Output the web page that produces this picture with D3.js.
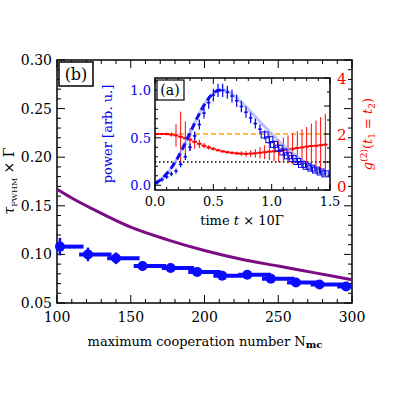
<!DOCTYPE html>
<html><head><meta charset="utf-8">
<script src="https://cdn.jsdelivr.net/npm/d3@7"></script>
<style>body{margin:0;background:#fff}text{font-family:"DejaVu Serif",serif}</style>
</head><body>
<svg id="c" width="400" height="400"></svg>
<script>
// main panel data
var nMc = [102,121,140,158,177,195,212,229,245,262,278,296]
var tau = [0.108,0.100,0.096,0.088,0.086,0.082,0.078,0.079,0.075,0.071,0.069,0.067]
var tauErr = [0.009,0.007,0.006,0.005,0.004,0.003,0.003,0.003,0.003,0.003,0.003,0.003]
var fitN = [100,110,125,150,175,200,225,250,275,300]
var fitTau = [0.167,0.158,0.146,0.128,0.115,0.104,0.095,0.088,0.081,0.074]
// inset data
var tPts = [0.02,0.06,0.10,0.14,0.18,0.22,0.26,0.30,0.34,0.38,0.42,0.46,0.50,0.54,0.58,0.62,0.66,0.70,0.74,0.78,0.82,0.86,0.90,0.94,0.98,1.02,1.06,1.10,1.14,1.18,1.22,1.26,1.30,1.34,1.38,1.42,1.46]
var power = [0.03,0.06,0.09,0.12,0.15,0.22,0.30,0.40,0.52,0.64,0.76,0.87,0.95,1.00,1.00,0.98,0.94,0.89,0.83,0.77,0.71,0.65,0.59,0.53,0.48,0.43,0.39,0.35,0.31,0.28,0.25,0.22,0.20,0.18,0.16,0.14,0.12]
var fitT = [0,0.05,0.1,0.15,0.2,0.25,0.3,0.35,0.4,0.45,0.5,0.55,0.6,0.65,0.7,0.8,0.9,1.0,1.1,1.2,1.3,1.4,1.5]
var fitP = [0.02,0.06,0.12,0.2,0.3,0.42,0.55,0.68,0.8,0.9,0.97,1.0,1.0,0.97,0.92,0.8,0.67,0.54,0.42,0.32,0.23,0.16,0.11]
var g2 = [2.0,2.0,2.0,1.98,1.95,1.9,1.85,1.8,1.72,1.65,1.58,1.52,1.47,1.42,1.38,1.35,1.33,1.31,1.3,1.29,1.3,1.31,1.33,1.35,1.37,1.38,1.4,1.42,1.45,1.47,1.5,1.52,1.55,1.57,1.58,1.6,1.62]
var g2Err = [0.04,0.04,0.05,0.08,0.4,0.9,0.6,0.4,0.25,0.15,0.1,0.08,0.06,0.05,0.05,0.05,0.05,0.06,0.08,0.1,0.12,0.15,0.2,0.25,0.3,0.35,0.4,0.45,0.5,0.55,0.6,0.65,0.7,0.8,0.9,1.0,1.1]

var svg = d3.select("#c")
var x = d3.scaleLinear().domain([100,300]).range([57,352])
var y = d3.scaleLinear().domain([0.05,0.30]).range([303,60])

svg.append("rect").attr("x",57).attr("y",60).attr("width",295).attr("height",243).attr("fill","none").attr("stroke","#000").attr("stroke-width",1.5)
// x ticks
var xm = d3.range(100,301,10)
svg.selectAll(".xt").data(xm).enter().append("line")
  .attr("x1",d=>x(d)).attr("x2",d=>x(d))
  .attr("y1",303).attr("y2",d=>303-(d%50==0?8:4)).attr("stroke","#000")
svg.selectAll(".xt2").data(xm).enter().append("line")
  .attr("x1",d=>x(d)).attr("x2",d=>x(d))
  .attr("y1",60).attr("y2",d=>60+(d%50==0?8:4)).attr("stroke","#000")
svg.selectAll(".xl").data([100,150,200,250,300]).enter().append("text")
  .attr("x",d=>x(d)).attr("y",322).attr("text-anchor","middle").attr("font-size",14).text(d=>d)
var ym = d3.range(0.05,0.301,0.01)
svg.selectAll(".yt").data(ym).enter().append("line")
  .attr("y1",d=>y(d)).attr("y2",d=>y(d)).attr("x1",57)
  .attr("x2",(d,i)=>57+(i%5==0?8:4)).attr("stroke","#000")
svg.selectAll(".yt2").data(ym).enter().append("line")
  .attr("y1",d=>y(d)).attr("y2",d=>y(d)).attr("x1",352)
  .attr("x2",(d,i)=>352-(i%5==0?8:4)).attr("stroke","#000")
svg.selectAll(".yl").data([0.05,0.10,0.15,0.20,0.25,0.30]).enter().append("text")
  .attr("x",52).attr("y",d=>y(d)+5).attr("text-anchor","end").attr("font-size",14).text(d=>d.toFixed(2))
svg.append("text").attr("x",205).attr("y",346).attr("text-anchor","middle").attr("font-size",13)
  .html('maximum cooperation number N<tspan font-size="10" font-weight="bold" dy="2">mc</tspan>')
svg.append("text").attr("transform","translate(14,181) rotate(-90)").attr("text-anchor","middle").attr("font-size",14)
  .html('<tspan font-style="italic">τ</tspan><tspan font-size="8" dy="3">FWHM</tspan><tspan dy="-3"> × Γ</tspan>')

svg.append("path").datum(fitN.map((d,i)=>[d,fitTau[i]]))
  .attr("d",d3.line().x(d=>x(d[0])).y(d=>y(d[1])).curve(d3.curveMonotoneX))
  .attr("fill","none").attr("stroke","#7b0c84").attr("stroke-width",3)
var pts = svg.append("g")
nMc.forEach(function(n,i){
  pts.append("line").attr("x1",x(Math.max(100,n-6))).attr("x2",x(Math.min(300,n+16))).attr("y1",y(tau[i])).attr("y2",y(tau[i])).attr("stroke","#0a0aff").attr("stroke-width",4)
  pts.append("line").attr("x1",x(n)).attr("x2",x(n)).attr("y1",y(tau[i]-tauErr[i])).attr("y2",y(tau[i]+tauErr[i])).attr("stroke","#0a0aff").attr("stroke-width",2.5)
  pts.append("circle").attr("cx",x(n)).attr("cy",y(tau[i])).attr("r",5).attr("fill","#0a0aff")
})
svg.append("rect").attr("x",59).attr("y",62).attr("width",34).attr("height",24).attr("fill","#fff").attr("stroke","#000").attr("stroke-width",1.5)
svg.append("text").attr("x",76).attr("y",80).attr("text-anchor","middle").attr("font-size",16).attr("font-family","DejaVu Sans").text("(b)")

// inset
var ix = d3.scaleLinear().domain([0,1.5]).range([155,330])
var iyL = d3.scaleLinear().domain([-0.05,1.13]).range([190,78])
var iyR = d3.scaleLinear().domain([0,4]).range([190,78])
svg.append("rect").attr("x",155).attr("y",78).attr("width",175).attr("height",112).attr("fill","#fff")
var ig = svg.append("g")
ig.append("line").attr("x1",155).attr("x2",330).attr("y1",iyR(1.0)).attr("y2",iyR(1.0)).attr("stroke","#000").attr("stroke-width",1.5).attr("stroke-dasharray","1.5,2.5")
ig.append("line").attr("x1",155).attr("x2",330).attr("y1",iyR(2.0)).attr("y2",iyR(2.0)).attr("stroke","#ffa500").attr("stroke-width",1.5).attr("stroke-dasharray","5,3")
tPts.forEach(function(t,i){
  ig.append("line").attr("x1",ix(t)).attr("x2",ix(t)).attr("y1",iyR(Math.max(0,g2[i]-g2Err[i]))).attr("y2",iyR(g2[i]+g2Err[i])).attr("stroke","red").attr("stroke-width",1)
  ig.append("line").attr("x1",ix(t-0.02)).attr("x2",ix(t+0.02)).attr("y1",iyR(g2[i])).attr("y2",iyR(g2[i])).attr("stroke","red").attr("stroke-width",2)
})
var line = d3.line().x(d=>ix(d[0])).y(d=>iyL(d[1])).curve(d3.curveMonotoneX)
ig.append("path").datum(fitT.map((d,i)=>[d,fitP[i]])).attr("d",line).attr("fill","none").attr("stroke","#9aa8ff").attr("stroke-width",3).attr("opacity",0.7)
ig.append("path").datum(fitT.filter(d=>d<=0.6).map((d,i)=>[d,fitP[i]])).attr("d",line).attr("fill","none").attr("stroke","#1010ee").attr("stroke-width",3).attr("stroke-dasharray","7,4")
tPts.forEach(function(t,i){
  var e = 0.02+power[i]*0.05
  ig.append("line").attr("x1",ix(t)).attr("x2",ix(t)).attr("y1",iyL(power[i]-e)).attr("y2",iyL(power[i]+e)).attr("stroke","#0000ee").attr("stroke-width",1.2)
  if (t>0.9) ig.append("rect").attr("x",ix(t)-3.5).attr("y",iyL(power[i])-3).attr("width",7).attr("height",6).attr("fill","none").attr("stroke","#0000ee")
  else ig.append("line").attr("x1",ix(t-0.015)).attr("x2",ix(t+0.015)).attr("y1",iyL(power[i])).attr("y2",iyL(power[i])).attr("stroke","#0000ee").attr("stroke-width",1.5)
})
ig.append("rect").attr("x",155).attr("y",78).attr("width",175).attr("height",112).attr("fill","none").attr("stroke","#000").attr("stroke-width",1.5)
d3.range(0,1.51,0.1).forEach(function(t,i){
  var l = i%5==0?6:3
  ig.append("line").attr("x1",ix(t)).attr("x2",ix(t)).attr("y1",190).attr("y2",190-l).attr("stroke","#000")
  ig.append("line").attr("x1",ix(t)).attr("x2",ix(t)).attr("y1",78).attr("y2",78+l).attr("stroke","#000")
})
ig.selectAll(".ixl").data([0,0.5,1.0,1.5]).enter().append("text").attr("x",d=>ix(d)).attr("y",206).attr("text-anchor","middle").attr("font-size",13).text(d=>d.toFixed(1))
d3.range(0,1.11,0.1).forEach(function(v,i){
  ig.append("line").attr("x1",155).attr("x2",155+(i%5==0?6:3)).attr("y1",iyL(v)).attr("y2",iyL(v)).attr("stroke","#000")
})
ig.selectAll(".iyl").data([0,0.5,1.0]).enter().append("text").attr("x",151).attr("y",d=>iyL(d)+5).attr("text-anchor","end").attr("font-size",13).attr("fill","#0000ee").text(d=>d.toFixed(1))
d3.range(0,4.01,0.5).forEach(function(v,i){
  ig.append("line").attr("x1",330).attr("x2",330-(i%2==0?6:3)).attr("y1",iyR(v)).attr("y2",iyR(v)).attr("stroke","#000")
})
ig.selectAll(".iyr").data([0,2,4]).enter().append("text").attr("x",337).attr("y",d=>iyR(d)+(d==0?2:6)).attr("font-size",15).attr("fill","red").text(d=>d)
svg.append("text").attr("x",242).attr("y",225).attr("text-anchor","middle").attr("font-size",13).html('time <tspan font-style="italic">t</tspan> × 10Γ')
svg.append("text").attr("transform","translate(112,134) rotate(-90)").attr("text-anchor","middle").attr("font-size",13).attr("fill","#0000ee").text("power [arb. u.]")
svg.append("text").attr("transform","translate(372,134) rotate(-90)").attr("text-anchor","middle").attr("font-size",13).attr("fill","red")
  .html('<tspan font-style="italic">g</tspan><tspan font-size="9" dy="-5">(2)</tspan><tspan dy="5">(</tspan><tspan font-style="italic">t</tspan><tspan font-size="9" dy="3">1</tspan><tspan dy="-3"> = </tspan><tspan font-style="italic">t</tspan><tspan font-size="9" dy="3">2</tspan><tspan dy="-3">)</tspan>')
ig.append("rect").attr("x",157).attr("y",80).attr("width",27).attr("height",20).attr("fill","#fff").attr("stroke","#000").attr("stroke-width",1.2)
ig.append("text").attr("x",170).attr("y",95).attr("text-anchor","middle").attr("font-size",14).attr("font-family","DejaVu Sans").text("(a)")
</script>
</body></html>
